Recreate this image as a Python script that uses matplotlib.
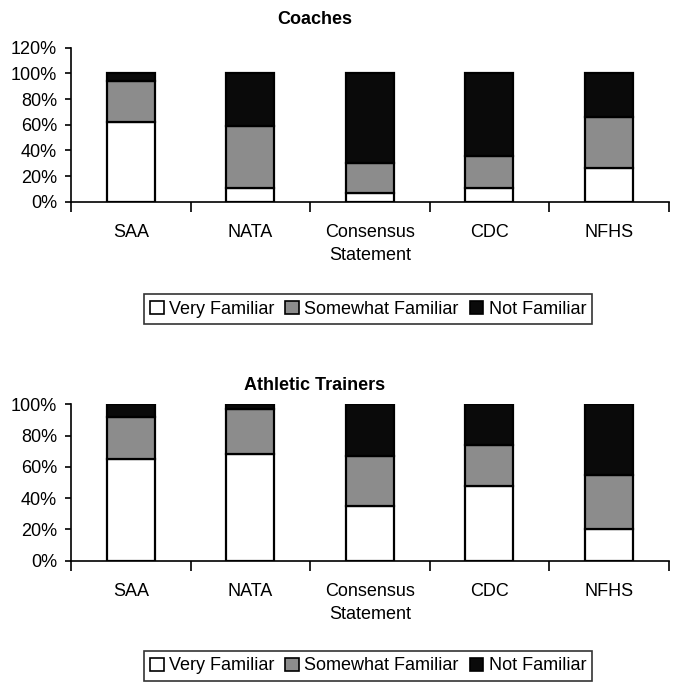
import numpy as np
import matplotlib.pyplot as plt
from matplotlib.patches import Patch

plt.rcParams['font.family'] = ['Liberation Sans', 'DejaVu Sans']

categories = ['SAA', 'NATA', 'Consensus\nStatement', 'CDC', 'NFHS']
series = ['Very Familiar', 'Somewhat Familiar', 'Not Familiar']

coach_very = [62, 11, 7, 11, 26]
coach_somewhat = [32, 48, 23, 25, 40]
coach_not = [6, 41, 70, 64, 34]

at_very = [65, 68, 35, 48, 20]
at_somewhat = [27, 29, 32, 26, 35]
at_not = [8, 3, 33, 26, 45]

colors = ['#ffffff', '#8c8c8c', '#0a0a0a']
FS = 13


def draw_panel(ax, vals, ymax, title, title_y):
    x = np.arange(len(categories))
    bottom = np.zeros(len(categories))
    for v, c in zip(vals, colors):
        v = np.array(v) / 100.0
        ax.bar(x, v, 0.4, bottom=bottom, color=c, edgecolor='black', linewidth=1.6, zorder=3)
        bottom += v
    ax.set_xlim(-0.5, len(categories) - 0.5)
    ax.set_ylim(0, ymax)
    ticks = np.arange(0, ymax + 0.001, 0.2)
    ax.set_yticks(ticks)
    ax.set_yticklabels([f'{int(round(t * 100))}%' for t in ticks], fontsize=FS)
    ax.set_xticks(x)
    ax.set_xticklabels(categories, fontsize=FS, linespacing=1.45)
    ax.set_xticks(np.arange(-0.5, len(categories)), minor=True)
    ax.tick_params(axis='x', which='major', length=0, pad=16)
    ax.tick_params(axis='x', which='minor', length=7, width=1.2, direction='out')
    ax.tick_params(axis='y', length=4, width=1.2, direction='out', pad=6)
    for s in ['top', 'right']:
        ax.spines[s].set_visible(False)
    for s in ['left', 'bottom']:
        ax.spines[s].set_linewidth(1.2)
    ax.figure.text(0.461, title_y, title, ha='center', va='center', fontsize=FS, fontweight='bold')


fig = plt.figure(figsize=(6.83, 6.98), dpi=100)
ax1 = fig.add_axes([0.104, 0.711, 0.875, 0.2206])
ax2 = fig.add_axes([0.104, 0.1967, 0.875, 0.2241])

draw_panel(ax1, [coach_very, coach_somewhat, coach_not], 1.2, 'Coaches', 1 - 20 / 698)
draw_panel(ax2, [at_very, at_somewhat, at_not], 1.0, 'Athletic Trainers', 1 - 386 / 698)

handles = [Patch(facecolor=c, edgecolor='black', linewidth=1.2) for c in colors]
for yc in [1 - 309 / 698, 1 - 666 / 698]:
    leg = fig.legend(handles, series, loc='center', bbox_to_anchor=(0.539, yc), ncol=3,
                     fontsize=FS, frameon=True, fancybox=False, edgecolor='black',
                     handlelength=0.75, handleheight=0.75, handletextpad=0.3,
                     columnspacing=0.6, borderpad=0.35, borderaxespad=0)
    leg.get_frame().set_linewidth(1.2)

fig.savefig('out.png', dpi=100)
